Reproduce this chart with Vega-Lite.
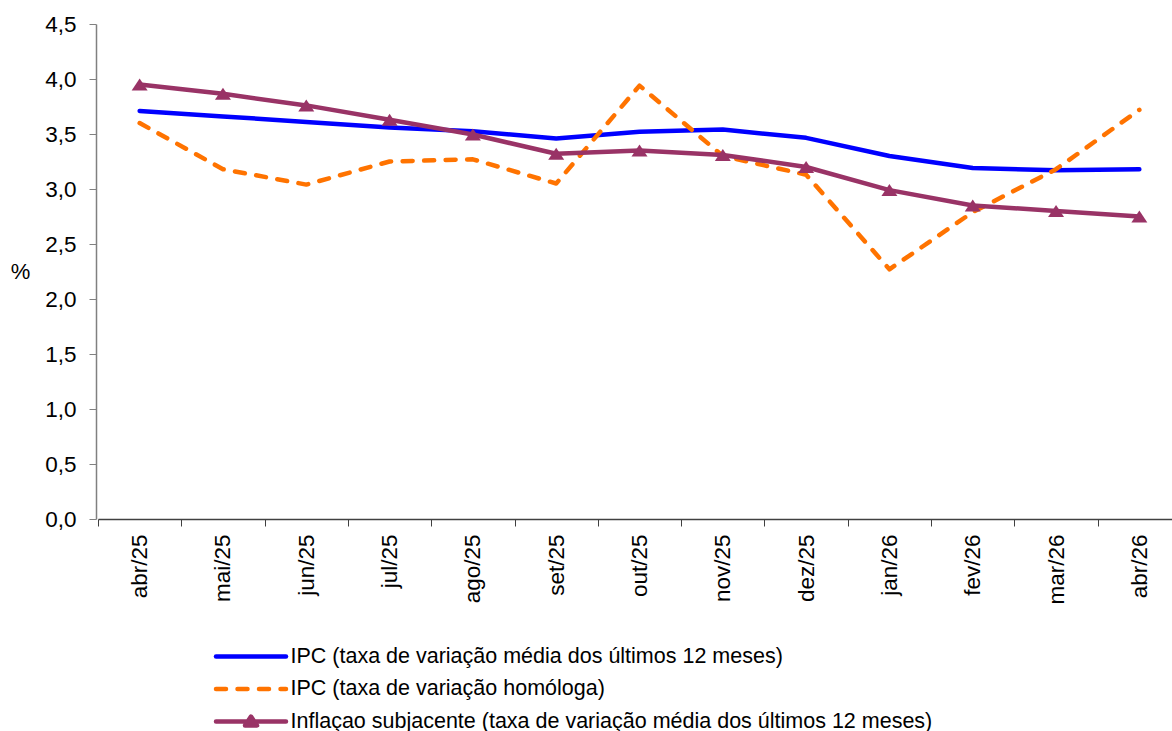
{
  "$schema": "https://vega.github.io/schema/vega-lite/v6.json",
  "width": 1076,
  "height": 495,
  "autosize": {"type": "none"},
  "padding": {"left": 96, "top": 24, "right": 0, "bottom": 212},
  "background": "white",
  "config": {"font": "Liberation Sans", "view": {"stroke": null}},
  "data": {
    "values": [
      {"mes": "abr/25", "serie": "IPC (taxa de variação média dos últimos 12 meses)", "valor": 3.71},
      {"mes": "mai/25", "serie": "IPC (taxa de variação média dos últimos 12 meses)", "valor": 3.66},
      {"mes": "jun/25", "serie": "IPC (taxa de variação média dos últimos 12 meses)", "valor": 3.61},
      {"mes": "jul/25", "serie": "IPC (taxa de variação média dos últimos 12 meses)", "valor": 3.56},
      {"mes": "ago/25", "serie": "IPC (taxa de variação média dos últimos 12 meses)", "valor": 3.525},
      {"mes": "set/25", "serie": "IPC (taxa de variação média dos últimos 12 meses)", "valor": 3.46},
      {"mes": "out/25", "serie": "IPC (taxa de variação média dos últimos 12 meses)", "valor": 3.52},
      {"mes": "nov/25", "serie": "IPC (taxa de variação média dos últimos 12 meses)", "valor": 3.54},
      {"mes": "dez/25", "serie": "IPC (taxa de variação média dos últimos 12 meses)", "valor": 3.465},
      {"mes": "jan/26", "serie": "IPC (taxa de variação média dos últimos 12 meses)", "valor": 3.30},
      {"mes": "fev/26", "serie": "IPC (taxa de variação média dos últimos 12 meses)", "valor": 3.19},
      {"mes": "mar/26", "serie": "IPC (taxa de variação média dos últimos 12 meses)", "valor": 3.17},
      {"mes": "abr/26", "serie": "IPC (taxa de variação média dos últimos 12 meses)", "valor": 3.18},
      {"mes": "abr/25", "serie": "IPC (taxa de variação homóloga)", "valor": 3.60},
      {"mes": "mai/25", "serie": "IPC (taxa de variação homóloga)", "valor": 3.18},
      {"mes": "jun/25", "serie": "IPC (taxa de variação homóloga)", "valor": 3.04},
      {"mes": "jul/25", "serie": "IPC (taxa de variação homóloga)", "valor": 3.25},
      {"mes": "ago/25", "serie": "IPC (taxa de variação homóloga)", "valor": 3.27},
      {"mes": "set/25", "serie": "IPC (taxa de variação homóloga)", "valor": 3.05},
      {"mes": "out/25", "serie": "IPC (taxa de variação homóloga)", "valor": 3.94},
      {"mes": "nov/25", "serie": "IPC (taxa de variação homóloga)", "valor": 3.30},
      {"mes": "dez/25", "serie": "IPC (taxa de variação homóloga)", "valor": 3.13},
      {"mes": "jan/26", "serie": "IPC (taxa de variação homóloga)", "valor": 2.27},
      {"mes": "fev/26", "serie": "IPC (taxa de variação homóloga)", "valor": 2.79},
      {"mes": "mar/26", "serie": "IPC (taxa de variação homóloga)", "valor": 3.18},
      {"mes": "abr/26", "serie": "IPC (taxa de variação homóloga)", "valor": 3.72},
      {"mes": "abr/25", "serie": "Inflaçao subjacente (taxa de variação média dos últimos 12 meses)", "valor": 3.95},
      {"mes": "mai/25", "serie": "Inflaçao subjacente (taxa de variação média dos últimos 12 meses)", "valor": 3.865},
      {"mes": "jun/25", "serie": "Inflaçao subjacente (taxa de variação média dos últimos 12 meses)", "valor": 3.76},
      {"mes": "jul/25", "serie": "Inflaçao subjacente (taxa de variação média dos últimos 12 meses)", "valor": 3.63},
      {"mes": "ago/25", "serie": "Inflaçao subjacente (taxa de variação média dos últimos 12 meses)", "valor": 3.495},
      {"mes": "set/25", "serie": "Inflaçao subjacente (taxa de variação média dos últimos 12 meses)", "valor": 3.32},
      {"mes": "out/25", "serie": "Inflaçao subjacente (taxa de variação média dos últimos 12 meses)", "valor": 3.35},
      {"mes": "nov/25", "serie": "Inflaçao subjacente (taxa de variação média dos últimos 12 meses)", "valor": 3.31},
      {"mes": "dez/25", "serie": "Inflaçao subjacente (taxa de variação média dos últimos 12 meses)", "valor": 3.20},
      {"mes": "jan/26", "serie": "Inflaçao subjacente (taxa de variação média dos últimos 12 meses)", "valor": 2.99},
      {"mes": "fev/26", "serie": "Inflaçao subjacente (taxa de variação média dos últimos 12 meses)", "valor": 2.85},
      {"mes": "mar/26", "serie": "Inflaçao subjacente (taxa de variação média dos últimos 12 meses)", "valor": 2.80},
      {"mes": "abr/26", "serie": "Inflaçao subjacente (taxa de variação média dos últimos 12 meses)", "valor": 2.75}
    ]
  },
  "encoding": {
    "x": {
      "field": "mes",
      "type": "nominal",
      "sort": ["abr/25", "mai/25", "jun/25", "jul/25", "ago/25", "set/25", "out/25", "nov/25", "dez/25", "jan/26", "fev/26", "mar/26", "abr/26"],
      "scale": {"type": "band", "range": [2, 1085], "paddingInner": 0, "paddingOuter": 0},
      "axis": {
        "title": null,
        "labelAngle": -90,
        "labelFontSize": 22.5,
        "labelColor": "black",
        "labelPadding": 8,
        "tickBand": "extent",
        "tickSize": 7,
        "tickColor": "#404040",
        "domainColor": "#404040",
        "domainWidth": 1.5,
        "grid": false
      }
    },
    "y": {
      "field": "valor",
      "type": "quantitative",
      "scale": {"domain": [0, 4.5], "nice": false, "zero": true},
      "axis": {
        "values": [0, 0.5, 1, 1.5, 2, 2.5, 3, 3.5, 4, 4.5],
        "labelExpr": "replace(format(datum.value, '.1f'), '.', ',')",
        "grid": false,
        "labelFontSize": 22.5,
        "labelColor": "black",
        "labelPadding": 13,
        "tickSize": 7,
        "tickColor": "#808080",
        "domainColor": "#808080",
        "domainWidth": 1.5,
        "title": "%",
        "titleAngle": 0,
        "titleX": -76,
        "titleY": 247.5,
        "titleAlign": "center",
        "titleBaseline": "middle",
        "titleFontWeight": "normal",
        "titleFontSize": 22,
        "titleColor": "black"
      }
    },
    "color": {
      "field": "serie",
      "type": "nominal",
      "scale": {
        "domain": ["IPC (taxa de variação média dos últimos 12 meses)", "IPC (taxa de variação homóloga)", "Inflaçao subjacente (taxa de variação média dos últimos 12 meses)"],
        "range": ["#0000FF", "#FF7300", "#993366"]
      },
      "legend": {
        "title": null,
        "orient": "none",
        "legendX": 117.5,
        "legendY": 620,
        "direction": "vertical",
        "padding": 0,
        "symbolSize": 400,
        "symbolStrokeWidth": 4.5,
        "symbolType": "M-1,0H6",
        "labelOffset": 52,
        "rowPadding": 9.5,
        "labelFontSize": 21.5,
        "labelColor": "black",
        "labelLimit": 0,
        "encode": {
          "symbols": {
            "update": {
              "shape": {"signal": "datum.value === 'Inflaçao subjacente (taxa de variação média dos últimos 12 meses)' ? 'M-1,0H6M2.5,-0.5L3.1,0.4L1.9,0.4Z' : 'M-1,0H6'"},
              "fill": {"signal": "datum.value === 'Inflaçao subjacente (taxa de variação média dos últimos 12 meses)' ? '#993366' : 'transparent'"},
              "strokeDash": {"signal": "datum.value === 'IPC (taxa de variação homóloga)' ? [10, 11.5] : null"},
              "strokeCap": {"value": "round"},
              "strokeJoin": {"value": "round"},
              "strokeWidth": {"value": 4.5}
            }
          }
        }
      }
    }
  },
  "layer": [
    {
      "transform": [{"filter": "datum.serie === 'IPC (taxa de variação média dos últimos 12 meses)'"}],
      "mark": {"type": "line", "strokeWidth": 4.5, "strokeCap": "round", "strokeJoin": "round"}
    },
    {
      "transform": [{"filter": "datum.serie === 'IPC (taxa de variação homóloga)'"}],
      "mark": {"type": "line", "strokeWidth": 4.5, "strokeCap": "round", "strokeJoin": "round", "strokeDash": [10, 11.5]}
    },
    {
      "transform": [{"filter": "datum.serie === 'Inflaçao subjacente (taxa de variação média dos últimos 12 meses)'"}],
      "mark": {"type": "line", "strokeWidth": 4.5, "strokeCap": "round", "strokeJoin": "round"}
    },
    {
      "transform": [{"filter": "datum.serie === 'Inflaçao subjacente (taxa de variação média dos últimos 12 meses)'"}],
      "mark": {"type": "point", "shape": "M0,-0.75L1,0.75L-1,0.75Z", "size": 256, "filled": true, "opacity": 1, "color": "#993366", "strokeWidth": 0},
      "encoding": {"color": {"value": "#993366"}}
    }
  ]
}
